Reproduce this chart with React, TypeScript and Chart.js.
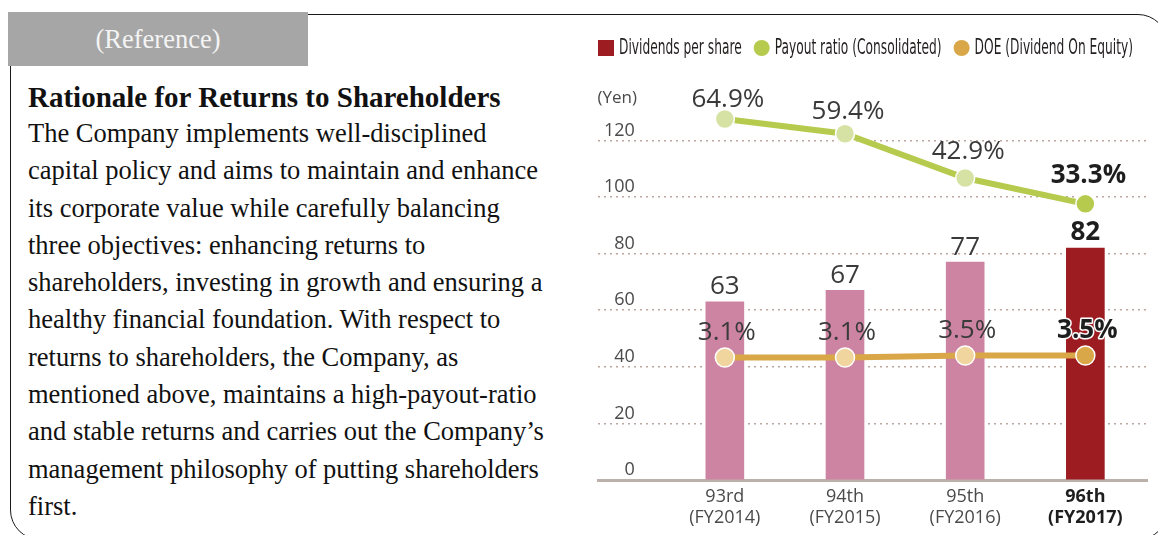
import React, { useEffect, useRef } from 'react';
import { Chart, registerables } from 'chart.js';

Chart.register(...registerables);

// ---- data ----
const categories = ['93rd', '94th', '95th', '96th'];
const fiscalYears = ['(FY2014)', '(FY2015)', '(FY2016)', '(FY2017)'];
const dividendsPerShare = [63, 67, 77, 82];
const payoutRatio = [64.9, 59.4, 42.9, 33.3];
const doeRatio = [3.1, 3.1, 3.5, 3.5];
const yenTicks = [0, 20, 40, 60, 80, 100, 120];
const legendLabels = ['Dividends per share', 'Payout ratio (Consolidated)', 'DOE (Dividend On Equity)'];
const yAxisUnit = '(Yen)';

const badgeText = '(Reference)';
const headingText = 'Rationale for Returns to Shareholders';
const bodyLines = [
  'The Company implements well-disciplined',
  'capital policy and aims to maintain and enhance',
  'its corporate value while carefully balancing',
  'three objectives: enhancing returns to',
  'shareholders, investing in growth and ensuring a',
  'healthy financial foundation. With respect to',
  'returns to shareholders, the Company, as',
  'mentioned above, maintains a high-payout-ratio',
  'and stable returns and carries out the Company\u2019s',
  'management philosophy of putting shareholders',
  'first.',
];

// ---- styles ----
const PINK = '#cd84a2';
const DARK_RED = '#9c1c22';
const GREEN = '#b6cb4e';
const GREEN_LIGHT = '#d6e2a4';
const ORANGE = '#d9a748';
const ORANGE_LIGHT = '#f0d59e';
const SANS = '"Open Sans", "Noto Sans", sans-serif';
const NARROW = '"Liberation Sans Narrow", "DejaVu Sans Condensed", "Liberation Sans", sans-serif';
const SERIF = '"Liberation Serif", "Times New Roman", serif';

const Y_MAX = 135;
const PAYOUT_LABEL_DY = [19, 22, 26, 28];

const legendPlugin = {
  id: 'customLegend',
  afterDraw(chart: any) {
    const ctx = chart.ctx;
    const y = 48;
    let x = chart.chartArea.left;
    ctx.save();
    ctx.font = `21px ${NARROW}`;
    const widths = legendLabels.map((t) => ctx.measureText(t).width);
    const total = widths.reduce((a, b) => a + b, 0);
    const sx = 448 / total;
    const colors = [DARK_RED, GREEN, ORANGE];
    legendLabels.forEach((t, i) => {
      ctx.fillStyle = colors[i];
      if (i === 0) {
        ctx.fillRect(x, y - 8, 16, 16);
      } else {
        ctx.beginPath();
        ctx.arc(x + 8, y, 8, 0, Math.PI * 2);
        ctx.fill();
      }
      x += 21;
      ctx.save();
      ctx.translate(x, y);
      ctx.scale(sx, 1);
      ctx.fillStyle = '#231f1f';
      ctx.textBaseline = 'middle';
      ctx.textAlign = 'left';
      ctx.fillText(t, 0, 1);
      ctx.restore();
      x += widths[i] * sx + 12;
    });
    // unit label
    ctx.font = `17px ${SANS}`;
    ctx.fillStyle = '#4a4a4a';
    ctx.textAlign = 'right';
    ctx.textBaseline = 'middle';
    ctx.fillText(yAxisUnit, chart.chartArea.left + 39, 98);
    ctx.restore();
  },
};

const valueLabelPlugin = {
  id: 'valueLabels',
  afterDatasetsDraw(chart: any) {
    const ctx = chart.ctx;
    ctx.save();
    ctx.textAlign = 'center';
    ctx.textBaseline = 'middle';
    const last = categories.length - 1;
    const barMeta = chart.getDatasetMeta(0);
    barMeta.data.forEach((el: any, i: number) => {
      ctx.font = `${i === last ? 'bold ' : ''}26px ${SANS}`;
      ctx.fillStyle = i === last ? '#1e1e1e' : '#3a3a3a';
      ctx.fillText(String(dividendsPerShare[i]), el.x, el.y - 15);
    });
    const payMeta = chart.getDatasetMeta(1);
    payMeta.data.forEach((el: any, i: number) => {
      ctx.font = `${i === last ? 'bold ' : ''}26px ${SANS}`;
      ctx.fillStyle = i === last ? '#1e1e1e' : '#3a3a3a';
      ctx.fillText(payoutRatio[i].toFixed(1) + '%', el.x + 3, el.y - PAYOUT_LABEL_DY[i]);
    });
    const doeMeta = chart.getDatasetMeta(2);
    doeMeta.data.forEach((el: any, i: number) => {
      ctx.font = `${i === last ? 'bold ' : ''}26px ${SANS}`;
      const txt = doeRatio[i].toFixed(1) + '%';
      if (i === last) {
        ctx.lineWidth = 3;
        ctx.strokeStyle = '#ffffff';
        ctx.lineJoin = 'round';
        ctx.strokeText(txt, el.x + 2, el.y - 25);
      }
      ctx.fillStyle = i === last ? '#1e1e1e' : '#3a3a3a';
      ctx.fillText(txt, el.x + 2, el.y - 25);
    });
    ctx.restore();
  },
};

function DividendChart() {
  const ref = useRef<HTMLCanvasElement>(null);
  useEffect(() => {
    const canvas = ref.current;
    if (!canvas) return;
    const last = categories.length - 1;
    const chart = new Chart(canvas, {
      type: 'bar',
      data: {
        datasets: [
          {
            type: 'bar',
            label: legendLabels[0],
            data: dividendsPerShare.map((v, i) => ({ x: i, y: v })),
            backgroundColor: dividendsPerShare.map((_, i) => (i === last ? DARK_RED : PINK)),
            barThickness: 38,
            yAxisID: 'y',
            order: 10,
          } as any,
          {
            type: 'line',
            label: legendLabels[1],
            data: payoutRatio.map((v, i) => ({ x: i, y: v })),
            yAxisID: 'y2',
            borderColor: GREEN,
            borderWidth: 6,
            pointRadius: 9.5,
            pointBackgroundColor: payoutRatio.map((_, i) => (i === last ? GREEN : GREEN_LIGHT)),
            pointBorderColor: '#ffffff',
            pointBorderWidth: 1.5,
            clip: false,
            order: 1,
          } as any,
          {
            type: 'line',
            label: legendLabels[2],
            data: doeRatio.map((v, i) => ({ x: i, y: v })),
            yAxisID: 'y3',
            borderColor: ORANGE,
            borderWidth: 6,
            pointRadius: 9.5,
            pointBackgroundColor: doeRatio.map((_, i) => (i === last ? ORANGE : ORANGE_LIGHT)),
            pointBorderColor: '#ffffff',
            pointBorderWidth: 1.5,
            clip: false,
            order: 2,
          } as any,
        ],
      },
      options: {
        responsive: false,
        animation: false,
        layout: { padding: { left: 18, right: 8, top: 98, bottom: 0 } },
        plugins: {
          legend: { display: false },
          tooltip: { enabled: false },
        },
        scales: {
          x: {
            type: 'linear',
            min: -1.0555,
            max: 3.513,
            offset: false,
            afterBuildTicks: (s: any) => {
              s.ticks = categories.map((_, i) => ({ value: i }));
            },
            afterFit: (s: any) => {
              s.height = 55;
            },
            grid: { display: false, drawTicks: false },
            border: { color: '#bcb0aa', width: 3 },
            ticks: {
              padding: 6,
              autoSkip: false,
              maxRotation: 0,
              callback: (_v: any, i: number) => [categories[i], fiscalYears[i]],
              font: (c: any) => ({ family: SANS, size: 18, lineHeight: 1.17, weight: c.index === last ? 'bold' : 'normal' }),
              color: (c: any) => (c.index === last ? '#1e1e1e' : '#4a4a4a'),
            },
          },
          y: {
            min: 0,
            max: Y_MAX,
            afterBuildTicks: (s: any) => {
              s.ticks = yenTicks.map((v) => ({ value: v }));
            },
            afterFit: (s: any) => {
              s.width = 0;
            },
            grid: {
              color: (c: any) => (c.tick && c.tick.value === 0 ? 'rgba(0,0,0,0)' : '#bba79e'),
              lineWidth: 1.5,
              drawTicks: false,
            },
            border: { display: false, dash: [2, 4] },
            ticks: {
              mirror: true,
              crossAlign: 'far',
              padding: 6,
              labelOffset: -10,
              font: { family: SANS, size: 18 },
              color: '#4a4a4a',
            },
          } as any,
          y2: { display: false, min: -69.55, max: 72.71 },
          y3: { display: false, min: -21.64, max: 55.5 },
        },
      } as any,
      plugins: [legendPlugin, valueLabelPlugin],
    });
    return () => chart.destroy();
  }, []);
  return (
    <canvas
      ref={ref}
      width={578}
      height={535}
      style={{ position: 'absolute', left: 580, top: 0, width: 578, height: 535 }}
    />
  );
}

export default function App() {
  return (
    <div
      style={{
        position: 'fixed',
        left: 0,
        top: 0,
        width: 1158,
        height: 535,
        overflow: 'hidden',
        background: '#ffffff',
      }}
    >
      <div
        style={{
          position: 'absolute',
          left: 10,
          top: 14,
          width: 1158,
          height: 526,
          border: '1.5px solid #1a1a1a',
          borderRadius: 30,
          boxSizing: 'border-box',
        }}
      />
      <div
        style={{
          position: 'absolute',
          left: 8,
          top: 12,
          width: 300,
          height: 54,
          background: '#a6a6a6',
          color: '#f4f4f4',
          fontFamily: SERIF,
          fontSize: 26.5,
          lineHeight: '54px',
          textAlign: 'center',
        }}
      >
        {badgeText}
      </div>
      <div
        style={{
          position: 'absolute',
          left: 28,
          top: 80,
          fontFamily: SERIF,
          fontWeight: 'bold',
          fontSize: 29,
          lineHeight: '34px',
          color: '#111',
          whiteSpace: 'nowrap',
        }}
      >
        {headingText}
      </div>
      <div
        style={{
          position: 'absolute',
          left: 28,
          top: 115,
          fontFamily: SERIF,
          fontSize: 26.5,
          lineHeight: '37.3px',
          color: '#111',
          whiteSpace: 'nowrap',
        }}
      >
        {bodyLines.map((l, i) => (
          <div key={i}>{l}</div>
        ))}
      </div>
      <DividendChart />
    </div>
  );
}
